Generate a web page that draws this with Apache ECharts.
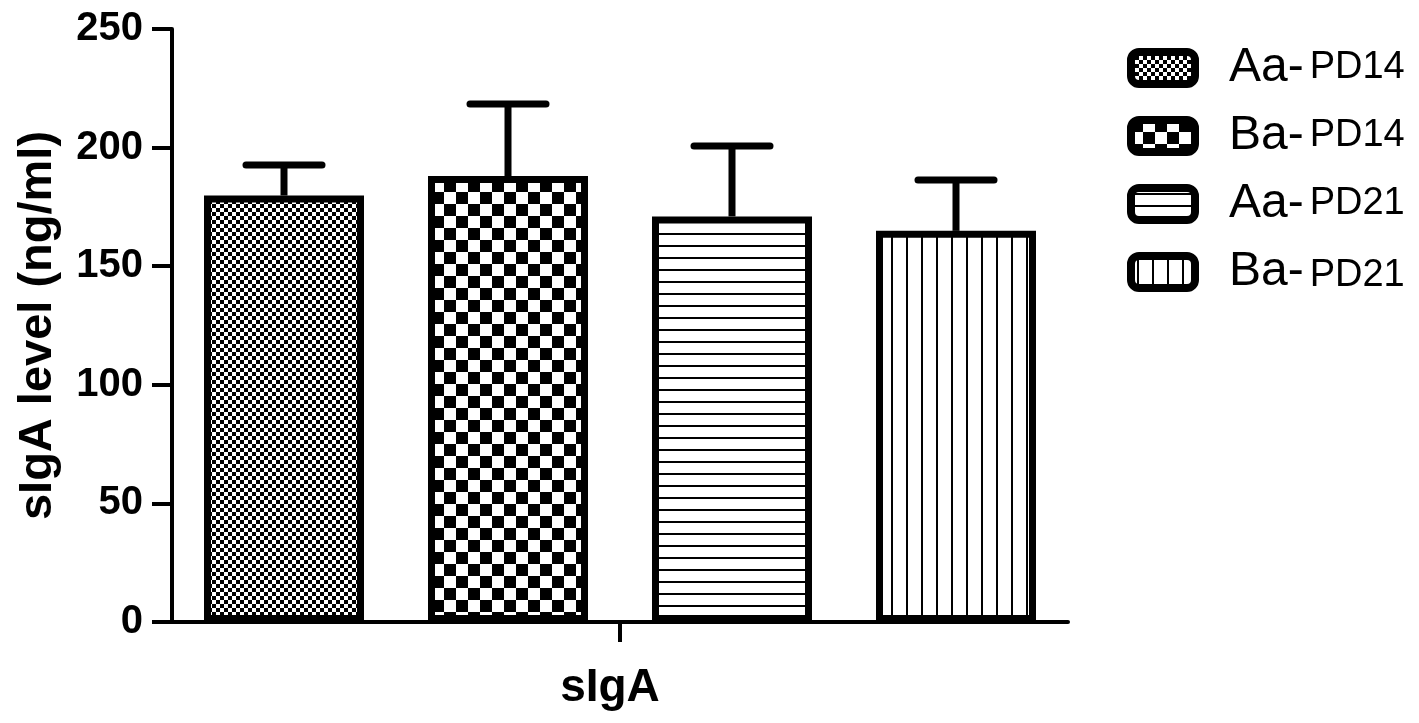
<!DOCTYPE html>
<html>
<head>
<meta charset="utf-8">
<script src="https://cdn.jsdelivr.net/npm/echarts@6/dist/echarts.min.js"></script>
<style>
  html, body { margin: 0; background: #fff; }
  #chart { width: 1419px; height: 723px; }
</style>
</head>
<body>
<div id="chart"></div>
<script>
// data
var groups = ["Aa-PD14", "Ba-PD14", "Aa-PD21", "Ba-PD21"];
var means = [179.8, 188.0, 171.0, 164.9];
var sds = [12.9, 30.4, 29.7, 21.4];
var category = ["sIgA"];
var yTicks = [0, 50, 100, 150, 200, 250];

var FONT = "Liberation Sans, Arial, sans-serif";

// black & white fill patterns, one per group
function makePattern(kind) {
  var c = document.createElement("canvas");
  var g;
  if (kind === "fine") {
    c.width = c.height = 8;
    g = c.getContext("2d");
    g.fillStyle = "#fff"; g.fillRect(0, 0, 8, 8);
    g.fillStyle = "#000"; g.fillRect(0, 0, 4, 4); g.fillRect(4, 4, 4, 4);
  } else if (kind === "coarse") {
    c.width = c.height = 24;
    g = c.getContext("2d");
    g.fillStyle = "#fff"; g.fillRect(0, 0, 24, 24);
    g.fillStyle = "#000"; g.fillRect(0, 0, 12, 12); g.fillRect(12, 12, 12, 12);
  } else if (kind === "hlines") {
    c.width = 12; c.height = 12;
    g = c.getContext("2d");
    g.fillStyle = "#fff"; g.fillRect(0, 0, 12, 12);
    g.fillStyle = "#000"; g.fillRect(0, 5, 12, 2);
  } else {
    c.width = 15; c.height = 15;
    g = c.getContext("2d");
    g.fillStyle = "#fff"; g.fillRect(0, 0, 15, 15);
    g.fillStyle = "#000"; g.fillRect(6, 0, 2, 15);
  }
  return { image: c, repeat: "repeat" };
}
var patterns = [makePattern("fine"), makePattern("coarse"), makePattern("hlines"), makePattern("vlines")];

var barSeries = groups.map(function (name, i) {
  var d = groups.map(function (_, j) { return j === i ? means[i] : "-"; });
  return {
    name: name,
    type: "bar",
    xAxisIndex: 1,
    barWidth: 160,
    barGap: "-100%",
    z: 3,
    itemStyle: { color: patterns[i], borderColor: "#000", borderWidth: 7 },
    data: d
  };
});

var errData = groups.map(function (_, i) { return [i, means[i], means[i] + sds[i]]; });

var chart = echarts.init(document.getElementById("chart"));
chart.setOption({
  backgroundColor: "#fff",
  animation: false,
  grid: { left: 172, right: 351, top: 29, bottom: 101, containLabel: false, outerBoundsMode: "none" },
  legend: {
    orient: "vertical",
    left: 1127,
    top: 44,
    padding: 0,
    itemWidth: 64,
    itemHeight: 32,
    itemGap: 20,
    icon: "roundRect",
    selectedMode: false,
    data: groups,
    itemStyle: { borderColor: "#000", borderWidth: 8 },
    formatter: function (name) {
      var parts = name.split("-");
      var tail = name === "Ba-PD21" ? "c" : "b";
      return "{a|" + parts[0] + "-}{" + tail + "|" + parts[1] + "}";
    },
    textStyle: {
      rich: {
        a: { fontFamily: FONT, fontSize: 48, lineHeight: 48, color: "#000", verticalAlign: "bottom", padding: [0, 0, 0, 29] },
        b: { fontFamily: FONT, fontSize: 38, lineHeight: 40, color: "#000", verticalAlign: "bottom", padding: [0, 0, 5, 6] },
        c: { fontFamily: FONT, fontSize: 38, lineHeight: 40, color: "#000", verticalAlign: "bottom", padding: [0, 0, 1, 6] }
      }
    }
  },
  xAxis: [
    {
      type: "category",
      data: category,
      position: "bottom",
      axisLine: { lineStyle: { color: "#000", width: 4 } },
      axisTick: { show: true, interval: 0, alignWithLabel: true, length: 20, lineStyle: { color: "#000", width: 4 } },
      axisLabel: { color: "#000", fontFamily: FONT, fontWeight: "bold", fontSize: 46, margin: 43, padding: [0, 20, 0, 0] }
    },
    {
      type: "category",
      data: groups,
      position: "bottom",
      show: false
    }
  ],
  yAxis: {
    type: "value",
    min: yTicks[0],
    max: yTicks[yTicks.length - 1],
    interval: yTicks[1] - yTicks[0],
    name: "sIgA level (ng/ml)",
    nameLocation: "middle",
    nameGap: 110,
    nameTextStyle: { color: "#000", fontFamily: FONT, fontWeight: "bold", fontSize: 47 },
    axisLine: { show: true, lineStyle: { color: "#000", width: 4 } },
    axisTick: { show: true, length: 20, lineStyle: { color: "#000", width: 4 } },
    axisLabel: { color: "#000", fontFamily: FONT, fontWeight: "bold", fontSize: 40, margin: 29 },
    splitLine: { show: false }
  },
  series: barSeries.concat([
    {
      name: "error",
      type: "custom",
      xAxisIndex: 1,
      z: 2,
      data: errData,
      encode: { x: 0, y: [1, 2] },
      renderItem: function (params, api) {
        var base = api.coord([api.value(0), api.value(1)]);
        var top = api.coord([api.value(0), api.value(2)]);
        var half = 38;
        return {
          type: "group",
          children: [
            { type: "line", shape: { x1: base[0], y1: base[1], x2: top[0], y2: top[1] },
              style: { stroke: "#000", lineWidth: 7 } },
            { type: "line", shape: { x1: top[0] - half, y1: top[1], x2: top[0] + half, y2: top[1] },
              style: { stroke: "#000", lineWidth: 7, lineCap: "round" } }
          ]
        };
      }
    }
  ])
});
window.addEventListener("resize", function () { chart.resize(); });
</script>
</body>
</html>
